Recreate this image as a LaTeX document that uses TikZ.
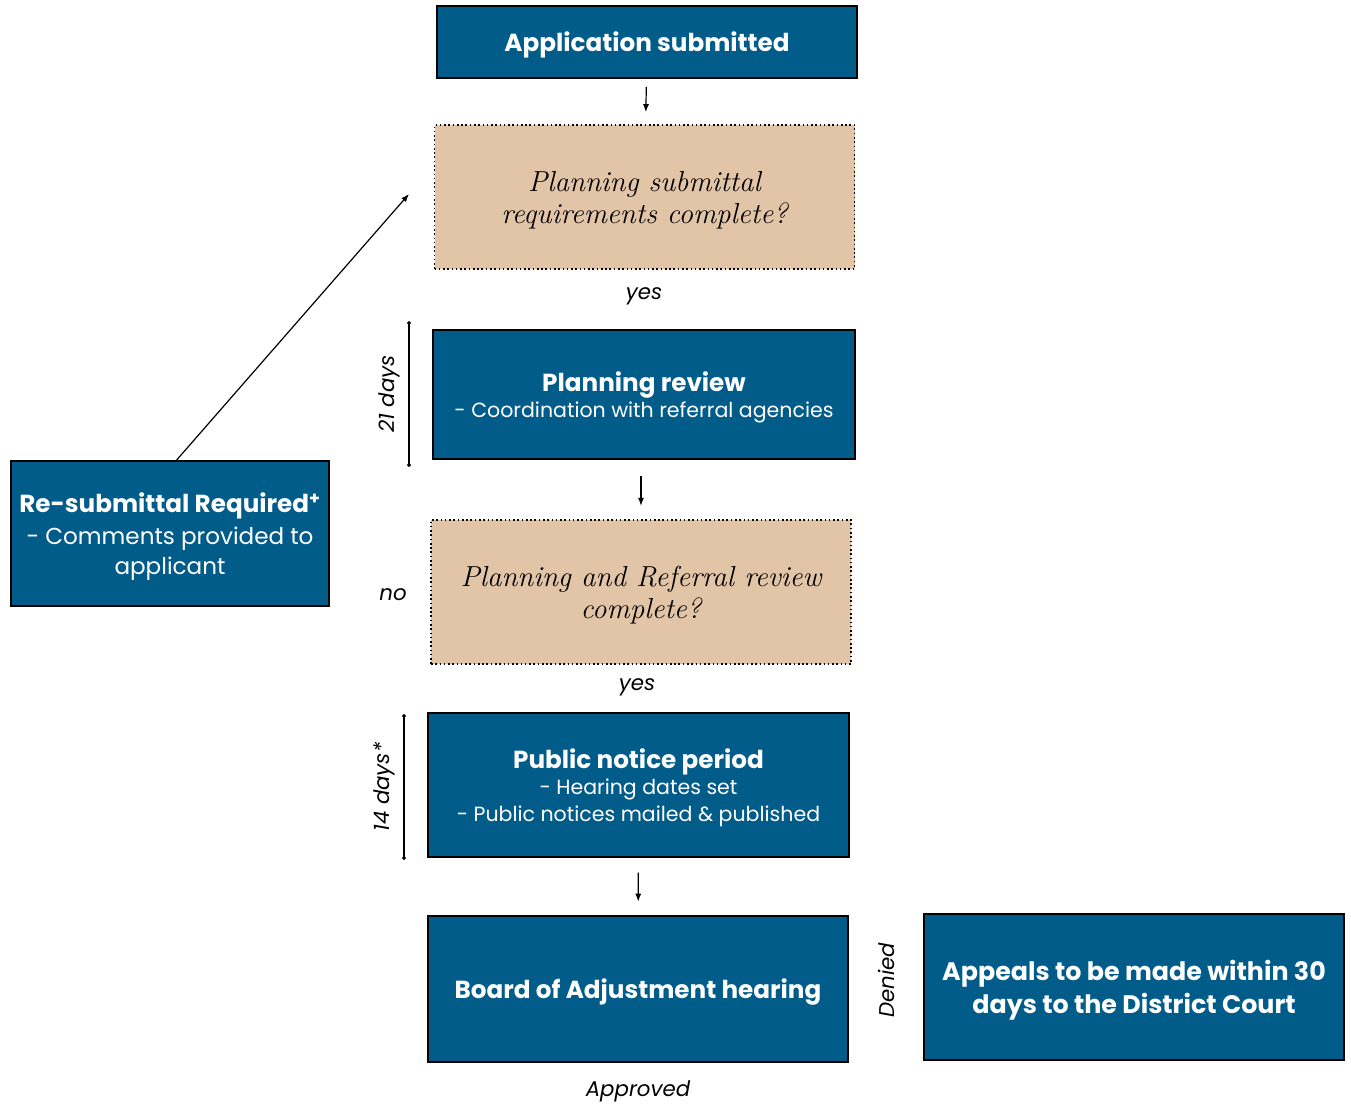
\documentclass[tikz,border=0pt]{standalone}
\usepackage{fontspec}
\setsansfont{Poppins}
\usetikzlibrary{arrows.meta}
\definecolor{boxblue}{RGB}{2,92,138}
\definecolor{boxtan}{RGB}{226,196,167}
\tikzstyle{box}=[rectangle,draw=black,line width=1.5pt,fill=boxblue,text=white,align=center,text depth=0pt,font=\sffamily\fontsize{15.4}{20}\selectfont]
\tikzstyle{question}=[rectangle,draw=black,dotted,line width=1.2pt,fill=boxtan,align=center,text depth=0pt,font=\itshape\fontsize{21.7}{24}\selectfont]
\tikzstyle{note}=[font=\sffamily\itshape\fontsize{16}{19}\selectfont]
\tikzstyle{arr}=[-{Latex[length=6pt,width=4.5pt]},line width=0.9pt]
\tikzstyle{span}=[{Circle[length=3pt]}-{Circle[length=3pt]},line width=0.8pt]
\newcommand\head[1]{{\bfseries\fontsize{18.5}{22}\selectfont #1}}

\begin{document}
\begin{tikzpicture}[x=0.75pt,y=-0.75pt]
  \useasboundingbox (0,0) rectangle (1351,1105);
  \node[box,minimum width=315pt,minimum height=54pt] (app) at (647,42) {\head{Application submitted}};
  \node[question,minimum width=315pt,minimum height=108pt] (reqs) at (644.5,197) {Planning submittal\\requirements complete?};
  \node[note] (yes1) at (644,296) {yes};
  \node[box,minimum width=316pt,minimum height=97pt] (review) at (644,394.5) {\head{Planning review}\\- Coordination with referral agencies};
  \node[question,minimum width=315pt,minimum height=108pt] (refq) at (641,592) {Planning and Referral review\\complete?};
  \node[note] (no) at (393,595) {no};
  \node[note] (yes2) at (637,687) {yes};
  \node[box,minimum width=316pt,minimum height=108pt] (notice) at (638.5,785) {\head{Public notice period}\\- Hearing dates set\\- Public notices mailed \& published};
  \node[box,minimum width=315pt,minimum height=109.5pt] (board) at (638,989) {\head{Board of Adjustment hearing}};
  \node[note] (approved) at (638,1091) {Approved};
  \node[note,rotate=90] (denied) at (886,980) {Denied};
  \node[box,minimum width=315pt,minimum height=109.5pt,font=\sffamily\bfseries\fontsize{19}{25}\selectfont] (appeal) at (1134,987) {Appeals to be made within 30\\days to the District Court};
  \node[box,minimum width=238.5pt,minimum height=108.75pt,font=\sffamily\fontsize{17.3}{22}\selectfont] (resub) at (170,533.5) {\head{Re-submittal Required\textsuperscript{+}}\\[2pt]- Comments provided to\\applicant};
  % time spans
  \coordinate (d21a) at (409,321);
  \coordinate (d21b) at (409,467);
  \draw[span] (d21a) -- node[midway,rotate=90,anchor=south,inner ysep=6pt,note] {21 days} (d21b);
  \coordinate (d14a) at (404,714);
  \coordinate (d14b) at (404,860);
  \draw[span] (d14a) -- node[midway,rotate=90,anchor=south,inner ysep=6pt,note] {14 days*} (d14b);
  % flow
  \coordinate (back) at (409,194);
  \draw[arr] ([xshift=5pt]resub.north) -- (back);
  \draw[arr,shorten <=6pt,shorten >=9pt] (app) -- (reqs);
  \draw[arr,shorten <=12pt,shorten >=10pt] ([xshift=-2.25pt]review.south) -- (refq.north);
  \draw[arr,shorten <=11pt,shorten >=10pt] (notice) -- (board);
\end{tikzpicture}
\end{document}
